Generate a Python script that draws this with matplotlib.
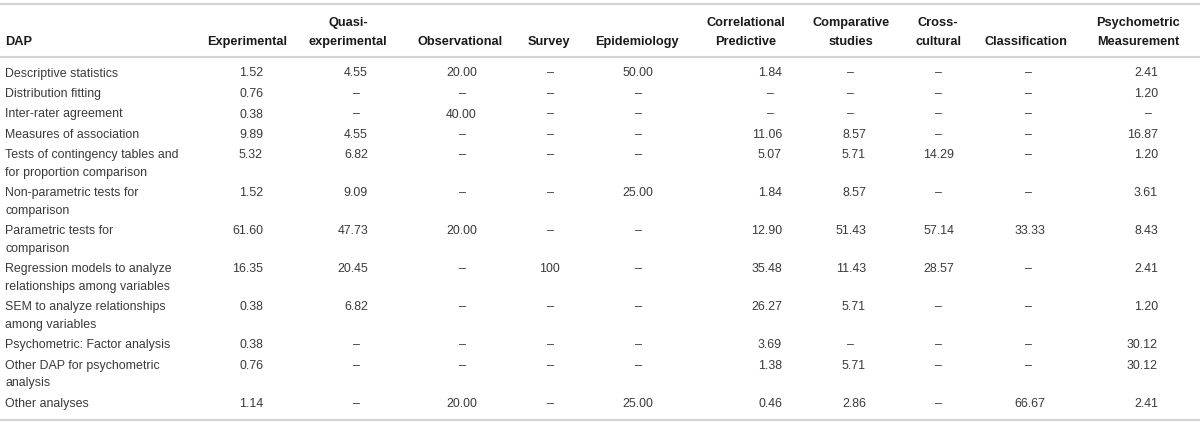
import matplotlib.pyplot as plt

# table content
dap_labels = [
    ["Descriptive statistics"],
    ["Distribution fitting"],
    ["Inter-rater agreement"],
    ["Measures of association"],
    ["Tests of contingency tables and", "for proportion comparison"],
    ["Non-parametric tests for", "comparison"],
    ["Parametric tests for", "comparison"],
    ["Regression models to analyze", "relationships among variables"],
    ["SEM to analyze relationships", "among variables"],
    ["Psychometric: Factor analysis"],
    ["Other DAP for psychometric", "analysis"],
    ["Other analyses"],
]

col_headers = [
    ["Experimental"],
    ["Quasi-", "experimental"],
    ["Observational"],
    ["Survey"],
    ["Epidemiology"],
    ["Correlational", "Predictive"],
    ["Comparative", "studies"],
    ["Cross-", "cultural"],
    ["Classification"],
    ["Psychometric", "Measurement"],
]

D = "–"
experimental = ["1.52", "0.76", "0.38", "9.89", "5.32", "1.52", "61.60", "16.35", "0.38", "0.38", "0.76", "1.14"]
quasi = ["4.55", D, D, "4.55", "6.82", "9.09", "47.73", "20.45", "6.82", D, D, D]
observational = ["20.00", D, "40.00", D, D, D, "20.00", D, D, D, D, "20.00"]
survey = [D, D, D, D, D, D, D, "100", D, D, D, D]
epidemiology = ["50.00", D, D, D, D, "25.00", D, D, D, D, D, "25.00"]
correlational = ["1.84", D, D, "11.06", "5.07", "1.84", "12.90", "35.48", "26.27", "3.69", "1.38", "0.46"]
comparative = [D, D, D, "8.57", "5.71", "8.57", "51.43", "11.43", "5.71", D, "5.71", "2.86"]
cross_cultural = [D, D, D, D, "14.29", D, "57.14", "28.57", D, D, D, D]
classification = [D, D, D, D, D, D, "33.33", D, D, D, D, "66.67"]
psychometric = ["2.41", "1.20", D, "16.87", "1.20", "3.61", "8.43", "2.41", "1.20", "30.12", "30.12", "2.41"]

columns = [experimental, quasi, observational, survey, epidemiology,
           correlational, comparative, cross_cultural, classification, psychometric]

# layout (pixels)
header_x = [247, 348, 460, 549, 637, 746, 851, 938, 1026, 1138]
number_right_x = [263, 368, 477, 560, 653, 782, 866, 954, 1045, 1158]
dash_x = [247, 356, 462, 550, 638, 770, 850, 938, 1028, 1148]
row_pitch = 20.5
line_pitch = 17.5
first_row_y = 73.5

body_color = "#3a3a3a"
head_color = "#1a1a1a"
rule_color = "#d4d4d4"
fs = 8.9
fs_head = 9.2

plt.rcParams['font.family'] = ['Liberation Sans', 'DejaVu Sans']

fig = plt.figure(figsize=(12, 4.27), dpi=100)
ax = fig.add_axes([0, 0, 1, 1])
ax.set_xlim(0, 1200)
ax.set_ylim(427, 0)
ax.axis('off')

# rules
for y in (4.5, 58, 421):
    ax.plot([0, 1200], [y, y], color=rule_color, lw=1.6, solid_capstyle='butt')

# header
ax.text(5, 42, "DAP", fontsize=fs_head, fontweight='bold', color=head_color, va='center', ha='left')
for hx, lines in zip(header_x, col_headers):
    ys = [42] if len(lines) == 1 else [23, 42]
    for y, t in zip(ys, lines):
        ax.text(hx, y, t, fontsize=fs_head, fontweight='bold', color=head_color, va='center', ha='center')

# body
y = first_row_y
for i, lines in enumerate(dap_labels):
    for k, t in enumerate(lines):
        ax.text(5, y + k * line_pitch, t, fontsize=fs, color=body_color, va='center', ha='left')
    for j, col in enumerate(columns):
        v = col[i]
        if v == D:
            ax.text(dash_x[j], y, v, fontsize=fs, color=body_color, va='center', ha='center')
        else:
            ax.text(number_right_x[j], y, v, fontsize=fs, color=body_color, va='center', ha='right')
    y += row_pitch + line_pitch * (len(lines) - 1)

fig.savefig("out.png", dpi=100)
